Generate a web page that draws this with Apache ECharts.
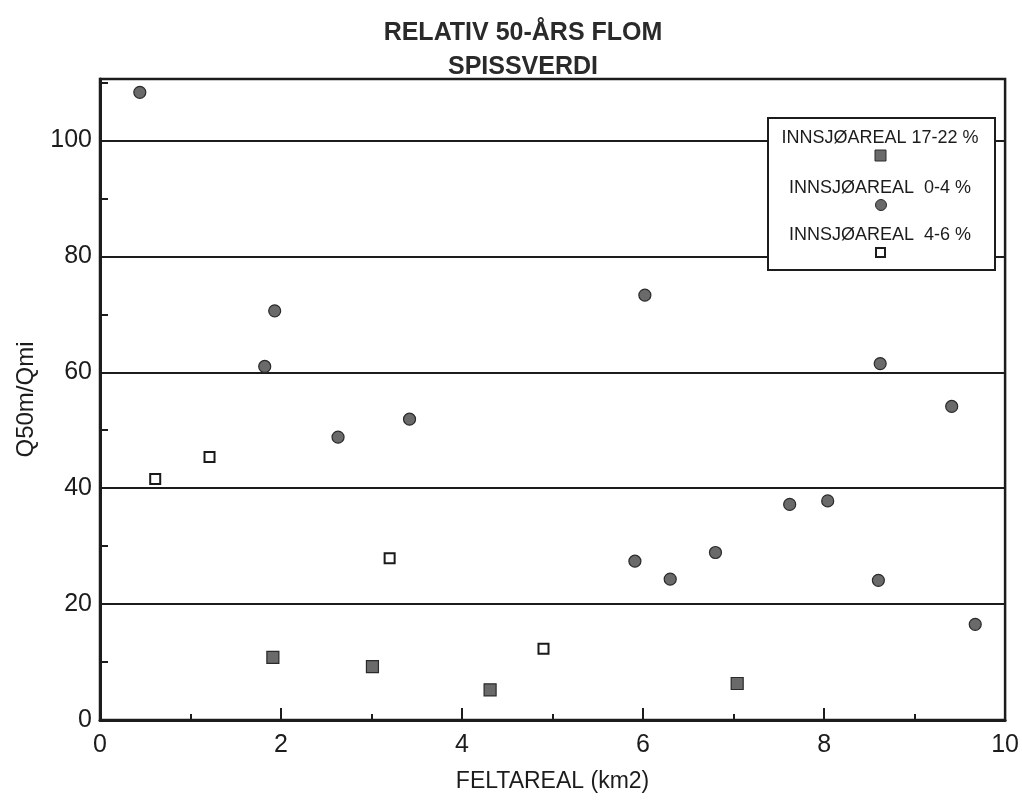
<!DOCTYPE html>
<html>
<head>
<meta charset="utf-8">
<script src="https://cdn.jsdelivr.net/npm/echarts@6/dist/echarts.min.js"></script>
<style>html,body{margin:0;padding:0;background:#fff;}#chart{width:1022px;height:800px;}</style>
</head>
<body>
<div id="chart"></div>
<script>
// Data
const circleX = [0.44, 1.93, 1.82, 2.63, 3.42, 6.02, 8.62, 9.41, 7.62, 8.04, 5.91, 6.30, 6.80, 8.60, 9.67];
const circleY = [108.3, 70.6, 61.0, 48.8, 51.9, 73.3, 61.5, 54.1, 37.2, 37.8, 27.4, 24.3, 28.9, 24.1, 16.5];
const filledSqX = [1.91, 3.01, 4.31, 7.04];
const filledSqY = [10.8, 9.2, 5.2, 6.3];
const openSqX = [0.61, 1.21, 3.20, 4.90];
const openSqY = [41.6, 45.4, 27.9, 12.3];
const seriesNames = ['INNSJØAREAL 17-22 %', 'INNSJØAREAL  0-4 %', 'INNSJØAREAL  4-6 %'];
const titleLines = ['RELATIV 50-ÅRS FLOM', 'SPISSVERDI'];

const zip = (xs, ys) => xs.map((x, i) => [x, ys[i]]);
const FONT = 'Liberation Sans, Arial, sans-serif';
const INK = '#1c1c1c';

const chart = echarts.init(document.getElementById('chart'));
chart.setOption({
  animation: false,
  backgroundColor: '#fff',
  title: {
    text: titleLines.join('\n'),
    left: 518, top: 11, textAlign: 'center',
    textStyle: { fontFamily: FONT, fontWeight: 'bold', fontSize: 25, color: '#2a2a2a', lineHeight: 34 }
  },
  grid: { left: 100, right: 12, top: 79, bottom: 80, show: true, borderColor: INK, borderWidth: 2.5, backgroundColor: 'transparent' },
  xAxis: {
    type: 'value', min: 0, max: 10, interval: 2,
    name: 'FELTAREAL (km2)', nameLocation: 'middle', nameGap: 50,
    nameTextStyle: { fontFamily: FONT, fontSize: 23, color: INK },
    axisLine: { lineStyle: { color: INK, width: 3 } },
    axisTick: { inside: true, length: 12, lineStyle: { color: INK, width: 2 } },
    minorTick: { show: true, splitNumber: 2, length: 6, lineStyle: { color: INK, width: 2 } },
    axisLabel: { fontFamily: FONT, fontSize: 25, color: INK, margin: 13 },
    splitLine: { show: false }
  },
  yAxis: {
    type: 'value', min: 0, max: 110.6, interval: 20,
    name: 'Q50m/Qmi', nameLocation: 'middle', nameGap: 62, nameRotate: 90,
    nameTextStyle: { fontFamily: FONT, fontSize: 24, color: INK },
    axisLine: { lineStyle: { color: INK, width: 3 } },
    axisTick: { inside: true, length: 8, lineStyle: { color: INK, width: 2 } },
    minorTick: { show: true, splitNumber: 2, length: 8, lineStyle: { color: INK, width: 2 } },
    axisLabel: { fontFamily: FONT, fontSize: 25, color: INK, margin: 8, showMaxLabel: false },
    splitLine: { show: true, lineStyle: { color: INK, width: 2 } }
  },
  series: [
    {
      name: seriesNames[0], type: 'scatter', symbol: 'rect', symbolSize: 12,
      data: zip(filledSqX, filledSqY),
      itemStyle: { color: '#6a6a6a', borderColor: '#2a2a2a', borderWidth: 1.2, opacity: 1 }
    },
    {
      name: seriesNames[1], type: 'scatter', symbol: 'circle', symbolSize: 12,
      data: zip(circleX, circleY),
      itemStyle: { color: '#6a6a6a', borderColor: '#2a2a2a', borderWidth: 1.2, opacity: 1 }
    },
    {
      name: seriesNames[2], type: 'scatter', symbol: 'rect', symbolSize: 10,
      data: zip(openSqX, openSqY),
      itemStyle: { color: '#ffffff', borderColor: '#1a1a1a', borderWidth: 2, opacity: 1 }
    }
  ],
  graphic: [
    { type: 'rect', shape: { x: 768, y: 118, width: 227, height: 152 }, style: { fill: '#fff', stroke: INK, lineWidth: 2 }, z: 100 },
    { type: 'text', x: 880, y: 138, style: { text: seriesNames[0], font: '18px ' + FONT, fill: INK, textAlign: 'center', textVerticalAlign: 'middle' }, z: 101 },
    { type: 'rect', shape: { x: 875, y: 150, width: 11, height: 11 }, style: { fill: '#6a6a6a', stroke: '#2a2a2a', lineWidth: 1 }, z: 101 },
    { type: 'text', x: 880, y: 188, style: { text: seriesNames[1], font: '18px ' + FONT, fill: INK, textAlign: 'center', textVerticalAlign: 'middle' }, z: 101 },
    { type: 'circle', shape: { cx: 881, cy: 205, r: 5.5 }, style: { fill: '#6a6a6a', stroke: '#2a2a2a', lineWidth: 1 }, z: 101 },
    { type: 'text', x: 880, y: 235, style: { text: seriesNames[2], font: '18px ' + FONT, fill: INK, textAlign: 'center', textVerticalAlign: 'middle' }, z: 101 },
    { type: 'rect', shape: { x: 876, y: 248, width: 9, height: 9 }, style: { fill: '#fff', stroke: INK, lineWidth: 2 }, z: 101 }
  ]
});
</script>
</body>
</html>
